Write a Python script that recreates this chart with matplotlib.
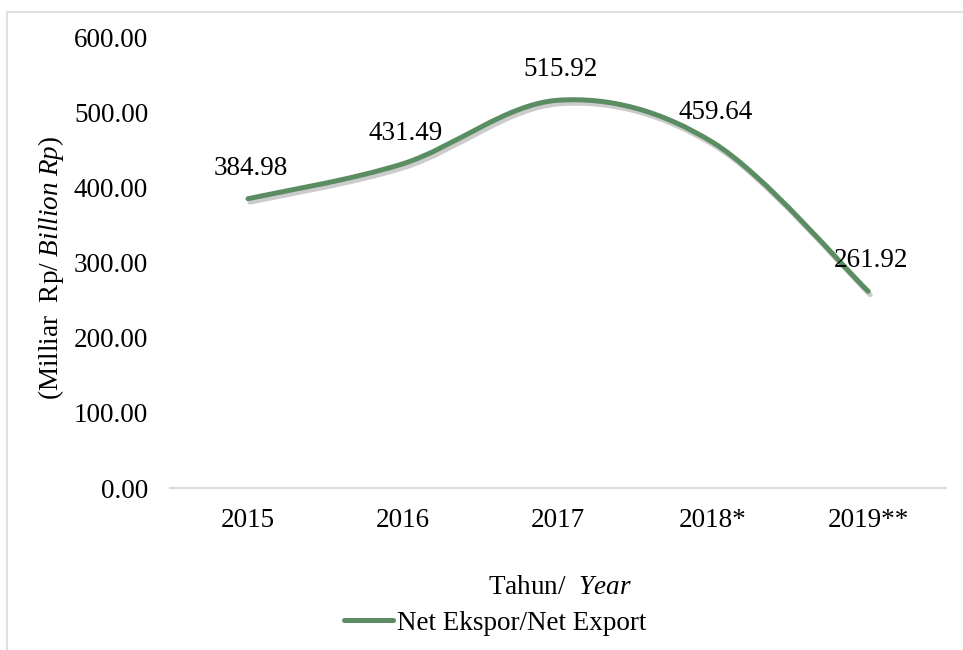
import numpy as np
import matplotlib.pyplot as plt
import matplotlib.patheffects as pe
from matplotlib.path import Path
from matplotlib.patches import PathPatch, Rectangle
from matplotlib.lines import Line2D

plt.rcParams['font.family'] = ['Liberation Serif', 'DejaVu Serif']
plt.rcParams['mathtext.fontset'] = 'custom'
plt.rcParams['mathtext.rm'] = 'Liberation Serif'
plt.rcParams['mathtext.it'] = 'Liberation Serif:italic'

# Net export, billion Rp
years = ['2015', '2016', '2017', '2018*', '2019**']
net_export = [384.98, 431.49, 515.92, 459.64, 261.92]
series_name = 'Net Ekspor/Net Export'

line_color = '#5a8d62'
fs = 19.5


def smooth_path(x, y):
    # cubic bezier through every point (catmull-rom style tangents)
    pts = np.column_stack([x, y]).astype(float)
    n = len(pts)
    verts = [pts[0]]
    codes = [Path.MOVETO]
    for i in range(n - 1):
        p0 = pts[max(i - 1, 0)]
        p1 = pts[i]
        p2 = pts[i + 1]
        p3 = pts[min(i + 2, n - 1)]
        verts += [p1 + (p2 - p0) / 6, p2 - (p3 - p1) / 6, p2]
        codes += [Path.CURVE4] * 3
    return Path(verts, codes)


fig = plt.figure(figsize=(9.63, 6.5), dpi=100)
ax = fig.add_axes([0.177, 0.249, 0.805, 0.694])

x = np.arange(len(years))
curve = PathPatch(smooth_path(x, net_export), fill=False, edgecolor=line_color,
                  lw=3.6, capstyle='round', joinstyle='round',
                  path_effects=[pe.SimpleLineShadow(offset=(1.5, -2.5), shadow_color='k', alpha=0.2),
                                pe.Normal()])
ax.add_patch(curve)

for xi, v in zip(x, net_export):
    ax.annotate(f'{v:.2f}', (xi, v), xytext=(2, 22), textcoords='offset points',
                ha='center', va='center', fontsize=fs)

ax.set_xlim(-0.5, len(years) - 0.5)
ax.set_ylim(0, 600)
ax.set_xticks(x)
ax.set_xticklabels(years)
ax.set_yticks(np.arange(0, 601, 100))
ax.set_yticklabels([f'{t:.2f}' for t in np.arange(0, 601, 100)])
ax.tick_params(axis='both', length=0, labelsize=fs)
ax.tick_params(axis='y', pad=16)
ax.tick_params(axis='x', pad=14)

for s in ['top', 'right', 'left']:
    ax.spines[s].set_visible(False)
ax.spines['bottom'].set_color('#d9dcd9')
ax.spines['bottom'].set_linewidth(1.5)

fig.text(560 / 963, 1 - 588 / 650, r'Tahun/  $\mathit{Year}$', ha='center', va='center', fontsize=fs)
fig.text(51 / 963, 1 - 268 / 650, r'(Milliar  Rp/ $\mathit{Billion\ Rp)}$', rotation=90,
         ha='center', va='center', fontsize=fs)

handle = Line2D([], [], color=line_color, lw=3.6, solid_capstyle='round')
fig.legend(handles=[handle], labels=[series_name], loc='center',
           bbox_to_anchor=(495 / 963, 1 - 623 / 650), frameon=False, fontsize=fs,
           handlelength=1.8, handletextpad=0.15)

# outer chart frame
fig.add_artist(Rectangle((7 / 963, -0.05), 1.2, 1 - 12 / 650 + 0.05, transform=fig.transFigure,
                         fill=False, edgecolor='#dde2dd', lw=1.5))

fig.savefig('out.png', dpi=100)
